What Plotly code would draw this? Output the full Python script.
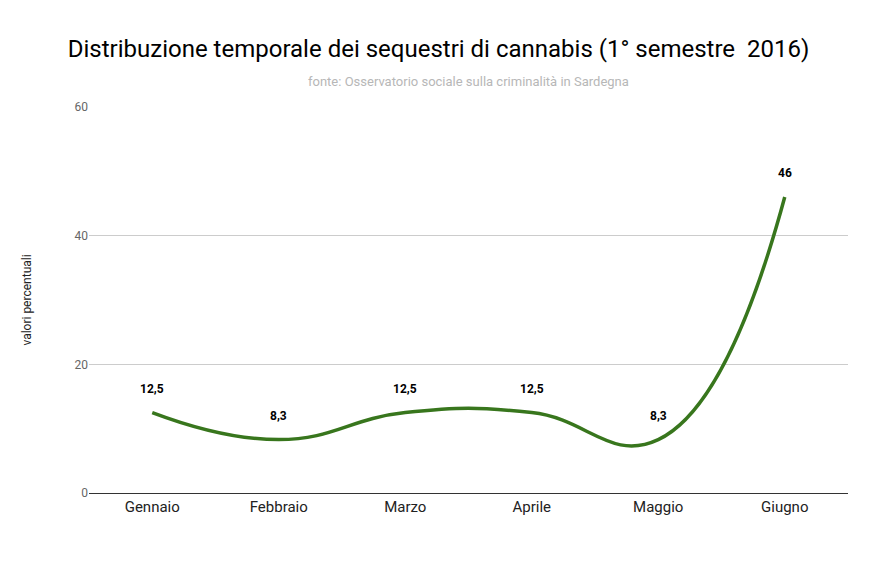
import plotly.graph_objects as go

# dati
mesi = ["Gennaio", "Febbraio", "Marzo", "Aprile", "Maggio", "Giugno"]
valori = [12.5, 8.3, 12.5, 12.5, 8.3, 46]
etichette = ["12,5", "8,3", "12,5", "12,5", "8,3", "46"]

fig = go.Figure()
fig.add_trace(go.Scatter(
    x=mesi, y=valori, mode="lines",
    line=dict(color="#38761d", width=3.5, shape="spline", smoothing=1.3),
    hoverinfo="skip",
))

# etichette sopra i punti
note = [dict(x=m, y=v, text=t, showarrow=False, yshift=24,
             font=dict(family="Roboto", size=12, color="black", weight="bold"))
        for m, v, t in zip(mesi, valori, etichette)]
note.append(dict(
    text="fonte: Osservatorio sociale sulla criminalità in Sardegna",
    xref="paper", yref="paper", x=0.5, y=1.09, xanchor="center",
    showarrow=False, font=dict(family="Roboto", size=13, color="#b7b7b7"),
))

fig.update_layout(
    width=892, height=573,
    paper_bgcolor="white", plot_bgcolor="white",
    font=dict(family="Roboto"),
    margin=dict(l=81, r=52, t=99, b=88),
    showlegend=False,
    title=dict(
        text="Distribuzione temporale dei sequestri di cannabis (1° semestre  2016)",
        x=0.067, xanchor="left", y=0.93, yanchor="middle",
        font=dict(family="Roboto", size=24, color="black"),
    ),
    annotations=note,
)
fig.update_xaxes(
    range=[-0.5, 5.5], showgrid=False, showline=True, linecolor="#333333",
    tickfont=dict(size=15, color="#222222"), ticks="",
)
fig.update_yaxes(
    range=[0, 60], tickvals=[0, 20, 40, 60], gridcolor="#cccccc",
    zeroline=False, tickfont=dict(size=12, color="#666666"), ticks="",
    title=dict(text="valori percentuali", font=dict(size=12, color="#222222"), standoff=40),
)

fig.write_html("out.html")
